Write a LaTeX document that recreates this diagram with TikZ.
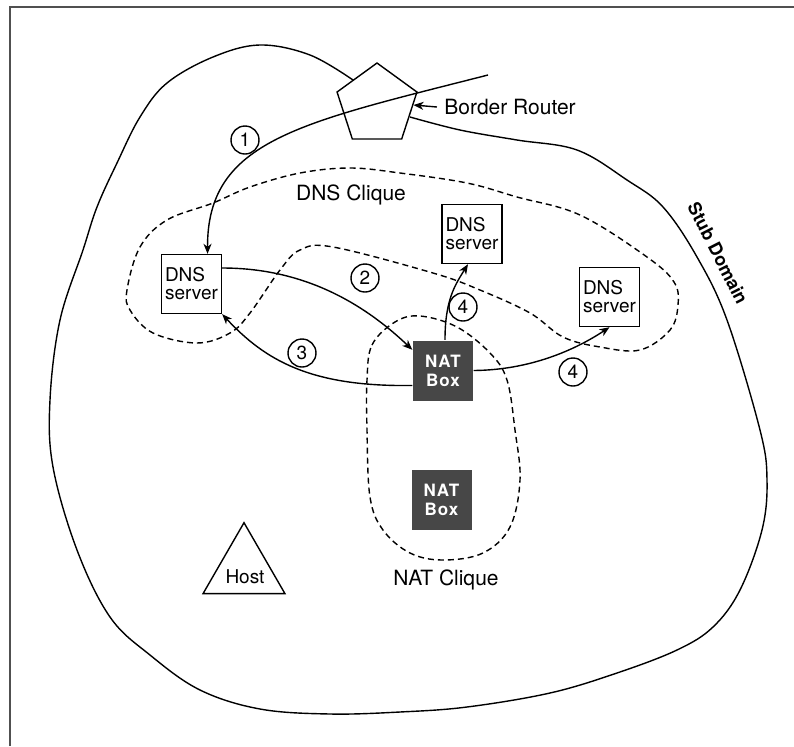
\documentclass[tikz,border=0pt]{standalone}
\usepackage{fontspec}
\setmainfont{TeX Gyre Heros}
\newfontfamily\natfont[LetterSpace=6]{TeX Gyre Heros}
\usetikzlibrary{shapes.geometric, arrows.meta}
\definecolor{natgray}{HTML}{474747}
\definecolor{framegray}{HTML}{505050}
\tikzset{
  dnsbox/.style={draw, fill=white, minimum width=30pt, minimum height=29.5pt, inner sep=1.5pt,
    align=left, font=\fontsize{9.5}{9}\selectfont},
  natbox/.style={fill=natgray, minimum size=30pt, inner sep=0pt, align=center, text=white,
    font=\natfont\bfseries\fontsize{8.5}{9.5}\selectfont},
  stepnum/.style={draw, circle, minimum size=14pt, inner sep=0pt, font=\fontsize{9.5}{10}\selectfont},
  flow/.style={-{Stealth[length=5pt, width=4pt, inset=1.5pt]}},
  clique/.style={dash pattern=on 3pt off 2pt},
  tag/.style={font=\fontsize{10.5}{12}\selectfont}
}
\begin{document}
\begin{tikzpicture}[x=0.5pt, y=-0.5pt, line width=0.7pt]
        \useasboundingbox (0,0) rectangle (794,746);
        % frame
        \draw[framegray, line width=1.3pt] (10,746) -- (10,7) -- (794,7);

        % Define nodes
        \node[regular polygon, regular polygon sides=5, draw, fill=white, minimum size=42pt, inner sep=0pt] (router) at (377,105) {};
        \node[tag, anchor=center] (brlabel) at (510,107) {Border Router};
        \coordinate (ext) at (488,75);

        \node[dnsbox] (dns1) at (191.5,284) {DNS\\server};
        \node[dnsbox] (dns2) at (472,234) {DNS\\server};
        \node[dnsbox] (dns3) at (609.5,297) {DNS\\server};
        \node[natbox] (nat1) at (443,370.5) {NAT\\Box};
        \node[natbox] (nat2) at (441.5,500) {NAT\\Box};

        \node[regular polygon, regular polygon sides=3, draw, minimum size=47.3pt, inner sep=0pt] (host) at (244,570) {};
        \node[font=\fontsize{9.5}{10}\selectfont] (hostlabel) at (245,577) {Host};

        \node[tag] (dnsclique) at (351,195) {DNS Clique};
        \node[tag] (natclique) at (446,580) {NAT Clique};
        \node[font=\bfseries\fontsize{9}{10}\selectfont, rotate=-63] (stub) at (718,253) {Stub Domain};

        \node[stepnum] (s1) at (245,140) {1};
        \node[stepnum] (s2) at (365,278) {2};
        \node[stepnum] (s3) at (302,353) {3};
        \node[stepnum] (s4a) at (463,307) {4};
        \node[stepnum] (s4b) at (573,372) {4};

        % Stub domain outline
        \draw plot[smooth, tension=0.6] coordinates {(353,80) (310,55) (260,45) (213,57) (167,83)
          (140,117) (117,163) (97,207) (83,250) (60,320) (50,400) (53,467) (77,550) (110,617)
          (150,655) (200,690) (260,709) (330,714) (400,712) (467,707) (550,693) (617,673)
          (677,650) (713,627) (740,590) (762,530) (767,480) (760,430) (727,320) (697,257)
          (663,207) (627,180) (577,150) (517,140) (460,130) (410,117)};

        % Cliques
        \draw[clique] plot[smooth cycle, tension=0.6] coordinates {(127,290) (140,247) (167,220)
          (213,203) (250,187) (300,173) (350,168) (400,173) (467,183) (517,197) (580,215)
          (647,257) (674,282) (678,305) (670,330) (640,350) (600,347) (563,337) (530,313)
          (480,290) (433,273) (333,247) (300,250) (280,270) (250,313) (230,333) (197,343)
          (153,333) (130,310)};
        \draw[clique] plot[smooth cycle, tension=0.6] coordinates {(367,380) (372,345) (395,322)
          (420,316) (457,327) (490,353) (507,380) (515,430) (520,480) (510,527) (483,553)
          (443,560) (410,553) (383,530) (370,497) (367,430)};

        % Draw edges
        \draw[flow] (brlabel.west) -- (router.east);
        \draw[flow] (ext) .. controls (300,123) and (207,140) .. (dns1.62);
        \draw[flow] ([yshift=8pt]dns1.east) .. controls (300,268) and (360,300) .. (nat1.146);
        \draw[flow] (nat1.206) .. controls (310,387) and (265,360) .. (dns1.south east);
        \draw[flow] ([xshift=1pt]nat1.north) .. controls (445,300) and (455,285) .. ([xshift=-2pt]dns2.south);
        \draw[flow] (nat1.east) .. controls (530,370) and (575,350) .. (dns3.south);
    \end{tikzpicture}
\end{document}
